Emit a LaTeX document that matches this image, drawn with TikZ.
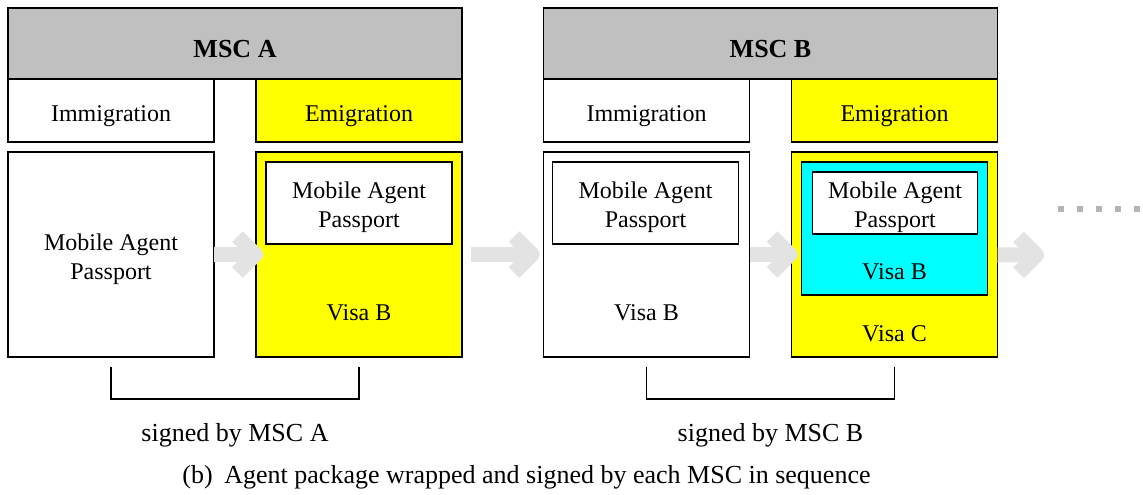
\documentclass[tikz,border=0pt]{standalone}
\usepackage{fontspec}
\setmainfont{Liberation Serif}
\usetikzlibrary{positioning,arrows.meta}

\definecolor{exityellow}{RGB}{255,255,0}
\definecolor{wrapcyan}{RGB}{0,255,255}
\definecolor{headgray}{RGB}{192,192,192}

\tikzset{
  box/.style={draw, line width=0.6pt, inner sep=0pt, outer sep=0pt, align=center,
    font=\fontsize{12}{14.5}\selectfont, text height=13.5pt},
  two/.style={text height=27.5pt, text depth=2.6pt},
  msc/.style={box, fill=headgray, minimum width=227pt, minimum height=35.5pt,
    font=\fontsize{13}{15}\selectfont\bfseries, text height=14.5pt},
  port/.style={box, minimum width=103pt, minimum height=31.5pt},
  pkg/.style={box, minimum width=103pt, minimum height=102.5pt},
  map/.style={box, two, fill=white, minimum width=93pt, minimum height=41pt},
  visa/.style={inner sep=0pt, font=\fontsize{12}{14.5}\selectfont},
  fat/.style={draw=gray!22, line width=7.5pt,
    -{Straight Barb[length=9pt,width=18pt,line join=round]}},
  dots/.style={draw=gray!58, line width=3pt, dash pattern=on 3pt off 6.5pt},
  bracket/.style={draw, line width=0.6pt},
  sign/.style={font=\fontsize{13}{15}\selectfont, anchor=base, yshift=-21pt},
}

\begin{document}
\begin{tikzpicture}[x=0.5pt, y=-0.5pt]
\useasboundingbox (0,0) rectangle (1143,494);

% MSC A
\node[msc] (mscA) at (235,43.5) {MSC A};
\node[port] (immA) [below right=0pt and 0pt of mscA.south west] {Immigration};
\node[port, fill=exityellow] (emiA) [below left=0pt and 0pt of mscA.south east] {Emigration};
\node[pkg, two] (pkgA1) [below=5pt of immA] {Mobile Agent\\Passport};
\node[pkg, fill=exityellow] (pkgA2) [below=5pt of emiA] {};
\node[map] (mapA) [below right=5pt and 5pt of pkgA2.north west] {Mobile Agent\\Passport};
\node[visa] (visaA) [above=18.5pt of pkgA2.south, anchor=base] {Visa B};

% MSC B
\node[msc] (mscB) at (770.5,43.5) {MSC B};
\node[port] (immB) [below right=0pt and 0pt of mscB.south west] {Immigration};
\node[port, fill=exityellow] (emiB) [below left=0pt and 0pt of mscB.south east] {Emigration};
\node[pkg] (pkgB1) [below=5pt of immB] {};
\node[map] (mapB) [below right=5pt and 4.5pt of pkgB1.north west] {Mobile Agent\\Passport};
\node[visa] (visaB) [above=18.5pt of pkgB1.south, anchor=base] {Visa B};
\node[pkg, fill=exityellow] (pkgB2) [below=5pt of emiB] {};
\node[box, fill=wrapcyan, minimum width=93pt, minimum height=66.5pt] (wrapB)
  [below right=5pt and 5pt of pkgB2.north west] {};
\node[box, two, fill=white, minimum width=82.5pt, minimum height=31pt] (mapBB)
  [below right=5pt and 5.5pt of wrapB.north west] {Mobile Agent\\Passport};
\node[visa] (visaBB) [above=8pt of wrapB.south, anchor=base] {Visa B};
\node[visa] (visaC) [above=8pt of pkgB2.south, anchor=base] {Visa C};

% hand-over arrows
\coordinate (nextB) at (1044,255);
\draw[fat, shorten >=-3.5pt] (pkgA1) -- (pkgA2);
\draw[fat, shorten <=4.5pt, shorten >=2pt] (pkgA2) -- (pkgB1);
\draw[fat, shorten >=-3pt] (pkgB1) -- (pkgB2);
\draw[fat] (pkgB2) -- (nextB);

\coordinate (dotsL) at (1058,209);
\coordinate (dotsR) at (1146,209);
\draw[dots] (dotsL) -- (dotsR);

% signatures
\draw[bracket] ([yshift=-5pt]pkgA1.south) -- ++(0,32)
  -| node[pos=.25, sign] {signed by MSC A} ([yshift=-5pt]pkgA2.south);
\draw[bracket] ([yshift=-5pt]pkgB1.south) -- ++(0,32)
  -| node[pos=.25, sign] {signed by MSC B} ([yshift=-5pt]pkgB2.south);

\node[font=\fontsize{13}{15}\selectfont, anchor=base] (caption) at (526.5,483)
  {(b)\hspace{0.45em}Agent package wrapped and signed by each MSC in sequence};
\end{tikzpicture}
\end{document}
